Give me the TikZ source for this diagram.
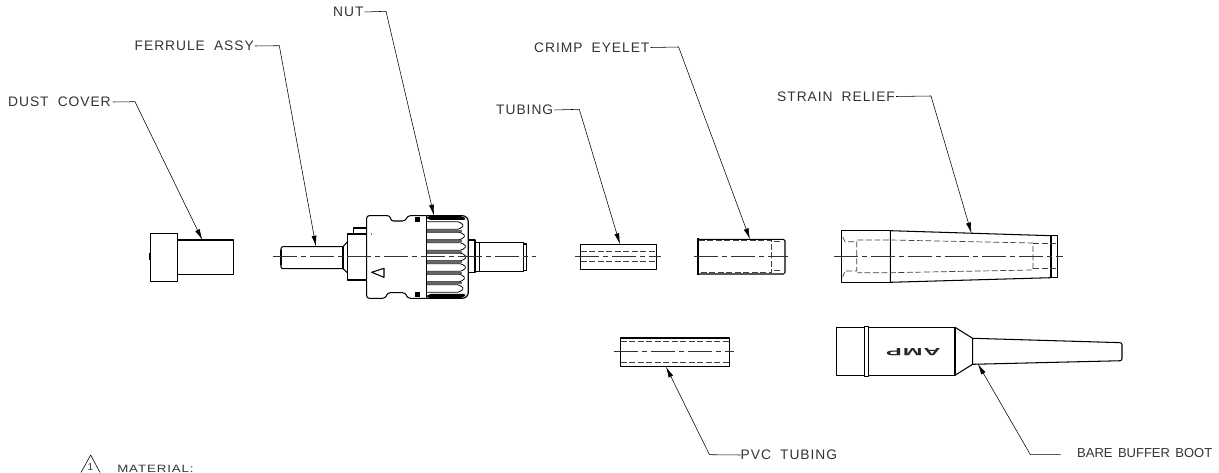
\documentclass[tikz,border=0pt]{standalone}
\usepackage{fontspec}
\setmainfont[LetterSpace=7,WordSpace=1.9]{Liberation Sans}
\newfontfamily\tightfont[WordSpace=1.5]{Liberation Sans}
\newfontfamily\logofont[LetterSpace=4]{Liberation Sans}
\usetikzlibrary{arrows.meta}
\begin{document}
\begin{tikzpicture}[x=1pt, y=-1pt]

\tikzstyle{callout} = [inner sep=0pt, font=\fontsize{13.8}{14}\selectfont, text=black!80]
\tikzstyle{leader} = [line width=.55pt, -{Latex[length=11pt,width=5pt]}]
\tikzstyle{part} = [line width=1.05pt, line join=round]
\tikzstyle{hidden} = [line width=.7pt, black!75, dash pattern=on 6pt off 2.5pt]
\tikzstyle{axisline} = [line width=.7pt, black!80, dash pattern=on 24pt off 4pt on 5pt off 4pt]

\useasboundingbox (0,0) rectangle (1219,473);

\node[callout, anchor=west] (dust) at (8,102) {DUST COVER};
\node[callout, anchor=west] (ferrule) at (134.5,46) {FERRULE ASSY};
\node[callout, anchor=west] (nut) at (333,12) {NUT};
\node[callout, anchor=west] (tubing) at (496,110) {TUBING};
\node[callout, anchor=west] (crimp) at (534,47.5) {CRIMP EYELET};
\node[callout, anchor=west] (strain) at (777,96.5) {STRAIN RELIEF};
\node[callout, anchor=west] (pvc) at (740.5,455) {PVC TUBING};
\node[callout, anchor=west, font=\tightfont\fontsize{13}{14}\selectfont] (boot) at (1077,453.5) {BARE BUFFER BOOT};
\node[callout, anchor=west, font=\fontsize{10.6}{11}\selectfont, xscale=1.25] (material) at (117,468.6) {MATERIAL:};
\node[callout, font=\tightfont\fontsize{10}{11}\selectfont] (one) at (90.5,467.5) {1};

\coordinate (dustbend) at (135,101.7);
\coordinate (dusttip) at (202.3,240);
\coordinate (ferrulebend) at (279.3,45.7);
\coordinate (ferruletip) at (316,246.7);
\coordinate (nutbend) at (386,11.3);
\coordinate (nuttip) at (434,215.7);
\coordinate (tubingbend) at (579.3,109.3);
\coordinate (tubingtip) at (620,244.3);
\coordinate (crimpbend) at (678.6,47);
\coordinate (crimptip) at (750,239.3);
\coordinate (strainbend) at (931,96);
\coordinate (straintip) at (971.5,233.5);
\coordinate (pvcbend) at (709.5,454.7);
\coordinate (pvctip) at (666,366.7);
\coordinate (bootbend) at (1030.4,454.7);
\coordinate (bootstart) at (1060.7,454.7);
\coordinate (boottip) at (977.8,363.7);

\draw[leader] (dust.east) ++(2,0) -- (dustbend) -- (dusttip);
\draw[leader] (ferrule.east) ++(1,0) -- (ferrulebend) -- (ferruletip);
\draw[leader] (nut.east) ++(1,0) -- (nutbend) -- (nuttip);
\draw[leader] (tubing.east) ++(1,0) -- (tubingbend) -- (tubingtip);
\draw[leader] (crimp.east) ++(1,0) -- (crimpbend) -- (crimptip);
\draw[leader] (strain.east) ++(1,0) -- (strainbend) -- (straintip);
\draw[leader] (pvc.west) -- (pvcbend) -- (pvctip);
\draw[leader] (bootstart) -- (bootbend) -- (boottip);

\draw[part] (150.7,233.3) rectangle (177.3,281.3);
\draw[part] (177.3,240) rectangle (233.3,274.7);
\draw[part] (149.3,253) -- (149.3,260);

\draw[part, rounded corners=2pt] (343,246.7) -- (281,246.7) -- (281,268.7) -- (343,268.7);
\draw[line width=1.8pt] (281,250) -- (281,265.5);
\draw[part] (343,246.7) -- (343,268.7);
\draw[part] (343,246.7) -- (347.7,241.5) (343,268.7) -- (347.7,273);
\draw[part] (366.7,234) -- (347.7,234) -- (347.7,280) -- (366.7,280);
\draw[part] (366.7,228) -- (353.5,228) -- (353.5,234);
\fill (371.5,234) circle (.6);
\draw[part, rounded corners=2.5pt] (426.7,215.7) -- (408,215.7) -- (405,221) -- (391,221) -- (390,215.7) -- (366.7,215.7) -- (366.7,298.3) -- (385,298.3) -- (388,292.7) -- (405,292.7) -- (408,298.3) -- (426.7,298.3);
\draw[part] (371.7,272.3) -- (384,268.3) -- (384,277.3) -- cycle;
\fill (415,217) rectangle (419.5,222);
\fill (415,292) rectangle (419.5,297.5);

\draw[part, rounded corners=6pt, line width=1.2pt] (426.7,215.7) -- (468.3,215.7) -- (468.3,298.3) -- (426.7,298.3);
\draw[part] (426.7,215.7) -- (426.7,298.3);
\fill[rounded corners=4pt] (426.7,215.7) -- (462,215.7) -- (467.5,220) -- (426.7,220) -- cycle;
\fill[rounded corners=4pt] (426.7,294) -- (467.5,294) -- (462,298.3) -- (426.7,298.3) -- cycle;
\foreach \c/\t in {225.5/464, 236/465.5, 246.5/466.5, 257/467, 267.5/466.5, 278/465.5, 288.5/464} {
  \draw[line width=.8pt, rounded corners=1.5pt] (426.7,\c-3.8) -- (\t-5,\c-3.8) -- (\t,\c) -- (\t-5,\c+3.8) -- (426.7,\c+3.8);
}
\foreach \g in {230.75, 241.25, 251.75, 262.25, 272.75, 283.25} {
  \draw[line width=2pt, black!60] (426.7,\g) -- (462,\g);
}

\draw[part] (468.3,240) -- (475,240) -- (475,272.7) -- (468.3,272.7);
\draw[part] (475,242.3) -- (523.3,242.3) -- (523.3,271.7) -- (475,271.7);
\draw[part] (479.3,242.3) -- (479.3,271.7);
\draw[part] (523.3,244) -- (526.7,244) -- (526.7,270.7) -- (523.3,270.7);

\draw[axisline] (273,256.5) -- (536,256.5);

\draw[part] (580.7,244.3) rectangle (656.7,269.7);
\draw[hidden] (580.7,251.7) -- (656.7,251.7);
\draw[hidden] (580.7,261.7) -- (656.7,261.7);
\draw[axisline] (575,256.7) -- (661,256.7);

\draw[part, rounded corners=1.5pt] (697.7,239.3) -- (785,239.3) -- (785,274) -- (697.7,274);
\draw[line width=1.8pt] (697.7,238) -- (697.7,275);
\draw[hidden] (698.5,240.7) -- (771.7,240.7) -- (771.7,272.3) -- (698.5,272.3);
\draw[line width=.8pt, black!75] (774,241.7) -- (780,241.7) (774,270.7) -- (780,270.7);
\draw[axisline] (694,256.7) -- (787.7,256.7);

\draw[part] (890.3,230.7) -- (841.7,230.7) -- (841.7,282.3) -- (890.3,282.3);
\draw[part] (890.3,230.7) -- (1051,235.7) -- (1051,277.7) -- (890.3,282.3) -- cycle;
\draw[part] (1051,235.7) rectangle (1057.7,277.7);
\draw[hidden] (1033,243) -- (1057.7,243);
\draw[hidden] (1033,268.7) -- (1057.7,268.7);
\draw[hidden] (857.3,240) -- (890.3,240) -- (1033,243) -- (1033,270) -- (890.3,272.7) -- (857.3,272.7);
\draw[hidden] (842.7,236.7) -- (845,241.7) -- (856.7,241.7) -- (856.7,271) -- (845,271) -- (842.7,277);
\draw[axisline] (834,256.7) -- (1062.7,256.7);

\draw[part] (620.7,338) rectangle (729.5,366.3);
\draw[hidden] (620.7,341) -- (729.5,341);
\draw[hidden] (620.7,362.3) -- (729.5,362.3);
\draw[axisline] (613.8,351.3) -- (733.6,351.3);

\draw[part] (836.2,327.3) rectangle (955,375.3);
\draw[part, fill=white] (864.5,326.3) rectangle (868.6,376.7);
\draw[part] (955,327.3) -- (972.6,338.3) -- (972.6,364.3) -- (955,375.3);
\draw[part, rounded corners=2pt] (972.6,338.3) -- (1122,342.7) -- (1122,360.7) -- (972.6,364.3);
\node[inner sep=0pt, rotate=180, font=\logofont\bfseries\fontsize{10.5}{10.5}\selectfont, xscale=2.25, text=black!85] (amp) at (913.4,351.7) {AMP};

\draw[line width=.6pt] (90.7,455) -- (81,472.5) (90.7,455) -- (100,472.5);

\end{tikzpicture}
\end{document}
